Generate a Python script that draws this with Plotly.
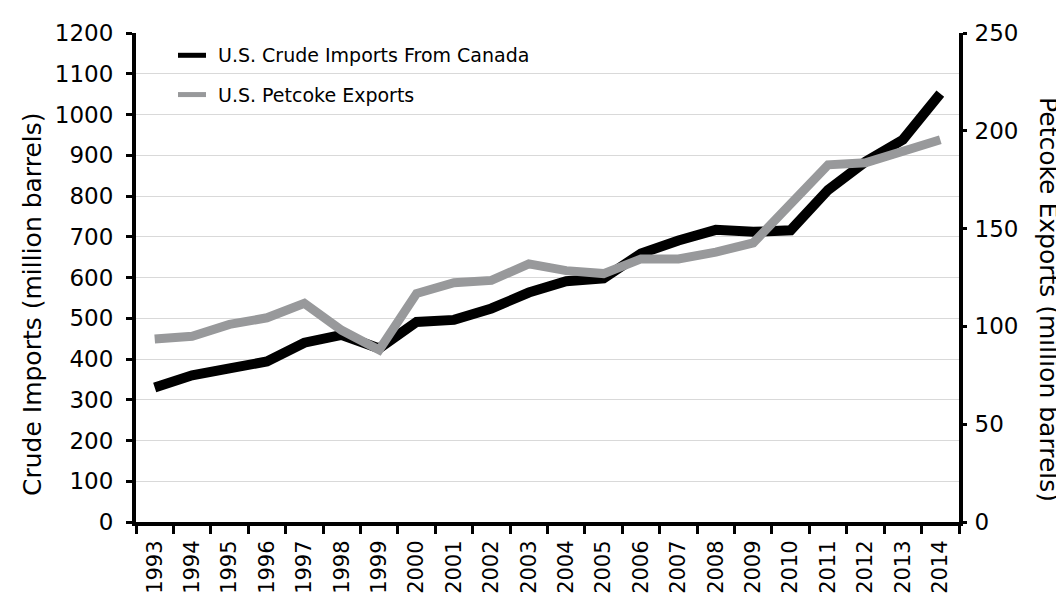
import plotly.graph_objects as go

years = [str(y) for y in range(1993, 2015)]
crude_imports = [330, 360, 377, 394, 440, 459, 426, 491, 496, 524, 563, 591, 598,
                 659, 691, 717, 712, 716, 815, 884, 938, 1051]
petcoke_exports = [93.5, 95, 101, 104.4, 111.8, 98, 88, 116.8, 122.3, 123.5, 132,
                   128.5, 127, 134.5, 134.5, 138, 142.7, 163.3, 182.6, 183.7, 190.1, 195.4]

series_names = ["U.S. Crude Imports From Canada", "U.S. Petcoke Exports"]
left_title = "Crude Imports (million barrels)"
right_title = "Petcoke Exports (million barrels)"

FONT = "DejaVu Sans"
BLACK = "#000000"
GRAY = "#98999b"

fig = go.Figure()
fig.add_trace(go.Scatter(x=years, y=crude_imports, mode="lines", name=series_names[0],
                         line=dict(color=BLACK, width=10), yaxis="y"))
fig.add_trace(go.Scatter(x=years, y=petcoke_exports, mode="lines", name=series_names[1],
                         line=dict(color=GRAY, width=9), yaxis="y2"))

W, H = 1064, 598
L, R, T, B = 128, 113, 24, 76
pw, ph = W - L - R, H - T - B

def px_x(p):
    return (p - L) / pw

def px_y(p):
    return (H - B - p) / ph

fig.update_layout(
    width=W, height=H,
    margin=dict(l=L, r=R, t=T, b=B),
    plot_bgcolor="white", paper_bgcolor="white",
    showlegend=False,
    font=dict(family=FONT, color="black", size=20),
    xaxis=dict(type="category", tickson="boundaries", ticks="outside", ticklen=8,
               tickwidth=3, tickcolor=BLACK, showline=True, linewidth=4, linecolor=BLACK,
               tickangle=-90, showgrid=False, tickfont=dict(size=21, family=FONT),
               range=[-0.5, 21.5], ticklabelstandoff=6),
    yaxis=dict(range=[0, 1200], dtick=100, ticks="outside", ticklen=6, tickwidth=3,
               tickcolor=BLACK, showline=True, linewidth=4, linecolor=BLACK,
               gridcolor="#d9d9d9", gridwidth=1, zeroline=False,
               tickfont=dict(size=23, family=FONT), ticklabelstandoff=8),
    yaxis2=dict(range=[0, 250], dtick=50, overlaying="y", side="right", ticks="outside",
                ticklen=4, tickwidth=3, tickcolor=BLACK, showline=True, linewidth=4,
                linecolor=BLACK, showgrid=False, zeroline=False,
                tickfont=dict(size=23, family=FONT), ticklabelstandoff=3),
)

# axis titles
fig.add_annotation(text=left_title, xref="paper", yref="paper", x=px_x(24), y=px_y(300),
                   textangle=-90, showarrow=False, xanchor="center", yanchor="middle",
                   font=dict(size=25, family=FONT))
fig.add_annotation(text=right_title, xref="paper", yref="paper", x=px_x(1041), y=px_y(295),
                   textangle=90, showarrow=False, xanchor="center", yanchor="middle",
                   font=dict(size=25, family=FONT))

# legend
for i, (name, col) in enumerate(zip(series_names, [BLACK, GRAY])):
    yc = [46.7, 86.7][i]
    fig.add_shape(type="line", xref="paper", yref="paper", x0=px_x(170), x1=px_x(198),
                  y0=px_y(yc), y1=px_y(yc), line=dict(color=col, width=5))
    fig.add_annotation(text=name, xref="paper", yref="paper", x=px_x(208), y=px_y(yc),
                       xanchor="left", yanchor="middle", showarrow=False,
                       font=dict(size=19, family=FONT))

fig.write_html("out.html")
